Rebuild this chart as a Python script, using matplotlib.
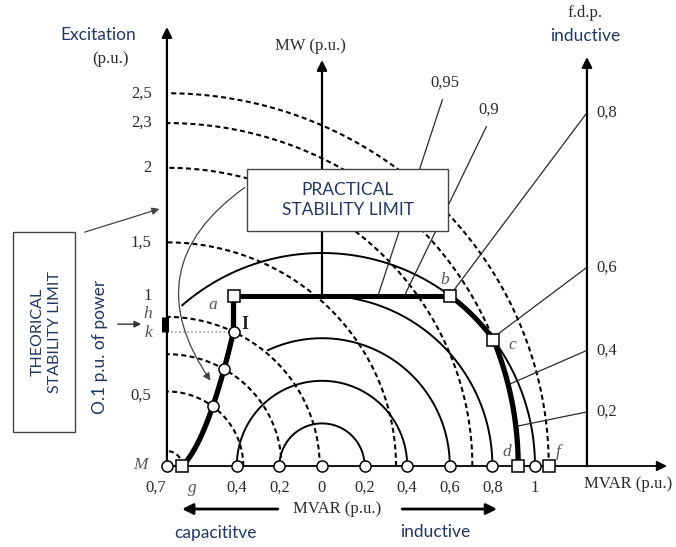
import numpy as np
import matplotlib.pyplot as plt
from matplotlib.patches import Rectangle, FancyArrowPatch

# excitation circles (dashed), centred on point M
m_q = -0.728
kx, ky = 0.717, 0.700
exc_levels = [2.5, 2.3, 2.0, 1.5, 1.0, 0.75, 0.5, 0.1]
exc_ticks = [2.5, 2.3, 2.0, 1.5]
exc_ticklabels = ['2,5', '2,3', '2', '1,5']
exc_points = [0.5, 0.75, 1.0]
exc_rotor = 2.3
exc_max = 2.5

# MVA circles (solid), centred on the origin
mva_radii = [0.2, 0.4, 0.6, 0.8, 1.0]
mva_from_deg = [180, 180, 115, 90, 131]

p_max = 0.8      # line a-b
margin = 0.07    # "0.1 p.u. of power" (h-k)

mvar_ticks = [-0.4, -0.2, 0, 0.2, 0.4, 0.6, 0.8, 1.0]
mvar_labels = ['0,4', '0,2', '0', '0,2', '0,4', '0,6', '0,8', '1']

pf_upper = [0.95, 0.9]
pf_upper_len = [1.81, 1.77]
pf_upper_labels = ['0,95', '0,9']
pf_right = [0.8, 0.6, 0.4, 0.2]
pf_right_labels = ['0,8', '0,6', '0,4', '0,2']
q_fdp = 1.244

SANS = 'Lato'
SERIF = 'Liberation Serif'
navy = '#22375e'
grey = '#2a2a2a'


def ellipse(E, t):
    return m_q + kx * E * np.cos(t), ky * E * np.sin(t)


def ray_hit(pf, E):
    s, c = np.sqrt(1 - pf**2), pf
    t = np.linspace(0.3, 2.5, 20001)
    f = ((t * s - m_q) / (kx * E))**2 + (t * c / (ky * E))**2 - 1
    return t[np.argmin(np.abs(f))]


fig = plt.figure(figsize=(6.76, 5.47), dpi=100)
ax = fig.add_axes([0, 0, 1, 1])
ax.set_xlim(-322 / 213, 354 / 213)
ax.set_ylim(-81 / 213, 466 / 213)
ax.axis('off')

th = np.linspace(0, np.pi / 2, 400)
for E in exc_levels:
    q, p = ellipse(E, th)
    ax.plot(q, p, color='k', lw=1.5, ls=(0, (2.4, 1.6)), zorder=2)

for r, a0 in zip(mva_radii, mva_from_deg):
    t = np.radians(np.linspace(0, a0, 300))
    ax.plot(r * np.cos(t), r * np.sin(t), color='k', lw=1.4, zorder=3)

# axes with arrows
arr = dict(arrowstyle='-|>', color='k', lw=1.6, mutation_scale=15, shrinkA=0, shrinkB=0)
ax.annotate('', xy=(m_q, 2.061), xytext=(m_q, 0), arrowprops=arr, zorder=4)
ax.annotate('', xy=(0, 1.906), xytext=(0, p_max), arrowprops=arr, zorder=1)
ax.annotate('', xy=(q_fdp, 1.92), xytext=(q_fdp, 0), arrowprops=arr, zorder=4)
ax.annotate('', xy=(1.62, 0), xytext=(m_q, 0), arrowprops=dict(arr, lw=1.3), zorder=4)

# power factor lines
for pf, L in zip(pf_upper, pf_upper_len):
    s = np.sqrt(1 - pf**2)
    t0 = p_max / pf
    ax.plot([t0 * s, L * s], [t0 * pf, L * pf], color=grey, lw=0.9, zorder=3)
for pf in pf_right:
    s = np.sqrt(1 - pf**2)
    t0 = 1.0 if pf == 0.8 else ray_hit(pf, exc_rotor)
    t1 = q_fdp / s
    ax.plot([t0 * s, t1 * s], [t0 * pf, t1 * pf], color=grey, lw=0.9, zorder=3)

# practical stability limit g -> a -> b -> c -> d
E_c = np.linspace(margin / ky, 1.0, 300)
p_c = ky * E_c - margin
q_c = m_q + kx * E_c * np.sqrt(np.clip(1 - (p_c / (ky * E_c))**2, 0, 1))
q_a = q_c[-1]
q_b = np.sqrt(1 - p_max**2)
tt = np.linspace(0, np.pi / 2, 20001)
qe, pe = ellipse(exc_rotor, tt)
i_c = np.argmin(np.abs(qe**2 + pe**2 - 1))
q_cc, p_cc = qe[i_c], pe[i_c]

ax.plot(np.r_[q_c, q_a], np.r_[p_c, p_max], color='k', lw=3.8, zorder=5,
        solid_capstyle='butt')
ax.plot([q_a, q_b], [p_max, p_max], color='k', lw=3.6, zorder=5)
ang = np.linspace(np.arctan2(p_max, q_b), np.arctan2(p_cc, q_cc), 100)
ax.plot(np.cos(ang), np.sin(ang), color='k', lw=3.6, zorder=5)
t_cd = np.linspace(tt[i_c], 0, 100)
q, p = ellipse(exc_rotor, t_cd)
ax.plot(q, p, color='k', lw=3.8, zorder=5)

# dotted k-I and h-k bar
ax.plot([m_q, q_a], [ky - margin, ky - margin], color='#888888', lw=1.1, ls=':', zorder=3)
ax.plot([m_q - 0.01, m_q - 0.01], [ky - margin, ky], color='k', lw=5, zorder=6,
        solid_capstyle='butt')

# markers
mk = dict(ls='none', mfc='white', mec='k', mew=1.1, zorder=7)
ax.plot(mvar_ticks + [m_q], [0] * (len(mvar_ticks) + 1), marker='o', ms=8, **mk)
for E in exc_points:
    p = ky * E - margin
    ax.plot(m_q + kx * E * np.sqrt(1 - (p / (ky * E))**2), p, marker='o', ms=8, **mk)
sq_q = [q_c[0], q_a, q_b, q_cc, m_q + kx * exc_rotor, m_q + kx * exc_max]
sq_p = [0, p_max, p_max, p_cc, 0, 0]
ax.plot(sq_q, sq_p, marker='s', ms=9, **mk)

# boxes
ax.add_patch(Rectangle((-0.352, 1.103), 0.944, 0.291, fc='white', ec='#444444',
                       lw=1.0, zorder=8))
ax.text(0.122, 1.248, 'PRACTICAL\nSTABILITY LIMIT', ha='center', va='center',
        family=SANS, fontsize=12.5, color=navy, linespacing=1.3, zorder=9)
ax.add_patch(Rectangle((-1.451, 0.160), 0.291, 0.939, fc='white', ec='#444444',
                       lw=1.0, zorder=8))
ax.text(-1.296, 0.629, 'THEORICAL\nSTABILITY LIMIT', ha='center', va='center',
        rotation=90, family=SANS, fontsize=11.5, color=navy, linespacing=1.3, zorder=9)

ax.add_patch(FancyArrowPatch((-0.352, 1.315), (-0.516, 0.39),
                             connectionstyle='arc3,rad=0.5', arrowstyle='-|>',
                             mutation_scale=11, lw=0.9, color='#444444', zorder=6))
ax.add_patch(FancyArrowPatch((-1.127, 1.094), (-0.751, 1.211), arrowstyle='-|>',
                             mutation_scale=11, lw=0.9, color='#444444', zorder=6))
ax.add_patch(FancyArrowPatch((-0.972, 0.666), (-0.836, 0.666), arrowstyle='-|>',
                             mutation_scale=10, lw=1.0, color='#333333', zorder=6))

# texts
serif = dict(family=SERIF, fontsize=12, color=grey)
sans = dict(family=SANS, fontsize=12.5, color=navy)
ital = dict(family=SERIF, fontsize=12.5, color='#555555', style='italic')

ax.text(-1.052, 2.023, 'Excitation', ha='center', va='center', **sans)
ax.text(-0.991, 1.911, '(p.u.)', ha='center', va='center', **serif)
ax.text(-0.052, 1.972, 'MW (p.u.)', ha='center', va='center', **serif)
ax.text(1.235, 2.127, 'f.d.p.', ha='center', va='center', **serif)
ax.text(1.235, 2.019, 'inductive', ha='center', va='center', **sans)

for E, lab in zip(exc_ticks, exc_ticklabels):
    ax.text(-0.80, ky * E, lab, ha='right', va='center', **serif)
ax.text(-0.80, p_max, '1', ha='right', va='center', **serif)
ax.text(-0.80, ky * 0.5 - 0.02, '0,5', ha='right', va='center', **serif)

ax.text(-0.817, ky + 0.015, 'h', ha='center', va='center', **ital)
ax.text(-0.817, ky - margin - 0.005, 'k', ha='center', va='center', **ital)
ax.text(-1.042, 0.559, 'O.1 p.u. of power', ha='center', va='center',
        rotation=90, **sans)

ax.text(-0.512, 0.756, 'a', ha='center', va='center', **ital)
ax.text(-0.362, 0.662, 'I', ha='center', va='center', family=SERIF, fontsize=13,
        color='#222222', weight='bold')
ax.text(0.577, 0.873, 'b', ha='center', va='center', **ital)
ax.text(0.892, 0.568, 'c', ha='center', va='center', **ital)
ax.text(0.869, 0.066, 'd', ha='center', va='center', **ital)
ax.text(1.108, 0.066, 'f', ha='center', va='center', **ital)
ax.text(-0.854, 0.005, 'M', ha='center', va='center', **ital)

for q, lab in zip(mvar_ticks, mvar_labels):
    ax.text(q, -0.103, lab, ha='center', va='center', **serif)
ax.text(-0.779, -0.103, '0,7', ha='center', va='center', **serif)
ax.text(-0.610, -0.103, 'g', ha='center', va='center', **ital)

for pf, L, lab in zip(pf_upper, pf_upper_len, pf_upper_labels):
    s = np.sqrt(1 - pf**2)
    ax.text(L * s + 0.01, L * pf + 0.08, lab, ha='center', va='center', **serif)
for pf, lab in zip(pf_right, pf_right_labels):
    s = np.sqrt(1 - pf**2)
    ax.text(q_fdp + 0.045, q_fdp / s * pf, lab, ha='left', va='center', **serif)

ax.text(1.437, -0.085, 'MVAR (p.u.)', ha='center', va='center', **serif)
ax.text(0.07, -0.202, 'MVAR (p.u.)', ha='center', va='center', **serif)
ax.annotate('', xy=(-0.657, -0.202), xytext=(-0.207, -0.202),
            arrowprops=dict(arr, lw=2.0, mutation_scale=16))
ax.annotate('', xy=(0.822, -0.202), xytext=(0.376, -0.202),
            arrowprops=dict(arr, lw=2.0, mutation_scale=16))
ax.text(-0.502, -0.315, 'capacititve', ha='center', va='center', **sans)
ax.text(0.531, -0.310, 'inductive', ha='center', va='center', **sans)

fig.savefig('out.png', dpi=100)
